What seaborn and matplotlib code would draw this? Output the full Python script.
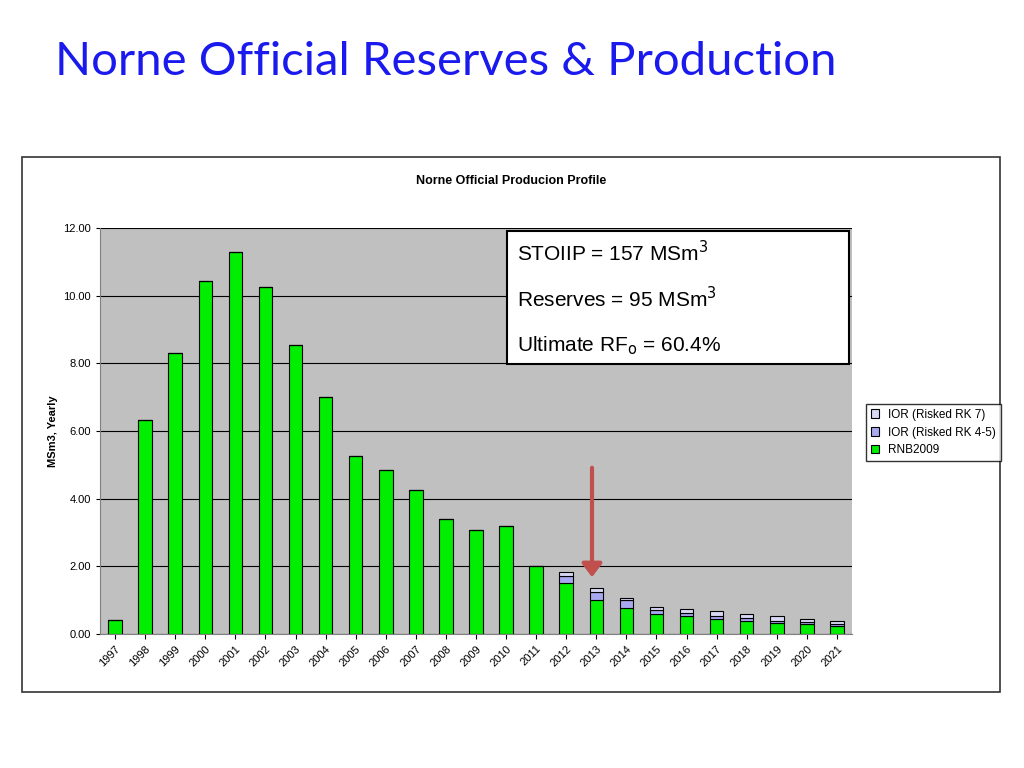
import matplotlib
matplotlib.use("Agg")
import matplotlib.pyplot as plt
import seaborn as sns
import numpy as np
from matplotlib.patches import Rectangle, FancyArrowPatch

years = [str(y) for y in range(1997, 2022)]
rnb2009 = [0.41, 6.33, 8.32, 10.42, 11.3, 10.27, 8.55, 7.0, 5.27, 4.85, 4.25, 3.4, 3.08, 3.2,
           2.0, 1.5, 1.0, 0.77, 0.58, 0.52, 0.45, 0.38, 0.32, 0.30, 0.24]
ior_rk45 = [0]*15 + [0.22, 0.23, 0.24, 0.13, 0.11, 0.09, 0.10, 0.07, 0.06, 0.06]
ior_rk7 = [0]*15 + [0.10, 0.14, 0.05, 0.09, 0.12, 0.15, 0.12, 0.13, 0.08, 0.07]

fig = plt.figure(figsize=(10.24, 7.68), dpi=100)
fig.patch.set_facecolor("white")
fig.text(55/1024, 1-62/768, "Norne Official Reserves & Production", color="#1a1aee",
         fontsize=34, family="Lato", va="center", ha="left")
fig.add_artist(Rectangle((22/1024, 1-692/768), 978/1024, 535/768, transform=fig.transFigure,
                         fill=False, edgecolor="#333333", lw=1.2))
fig.text(511/1024, 1-181/768, "Norne Official Producion Profile", fontsize=9, fontweight="bold",
         ha="center", va="center", family="Liberation Sans")

ax = fig.add_axes([100/1024, 1-634/768, 752/1024, 406/768])
ax.set_facecolor("#c0c0c0")
x = np.arange(len(years))
b1 = np.array(rnb2009)
b2 = b1 + np.array(ior_rk45)
sns.barplot(x=years, y=rnb2009, ax=ax, color="#00ee00", edgecolor="black", linewidth=0.8,
            width=0.45, saturation=1, label="RNB2009")
sns.barplot(x=years, y=ior_rk45, ax=ax, color="#a8a8f0", edgecolor="black", linewidth=0.8,
            width=0.45, saturation=1, bottom=b1, label="IOR (Risked RK 4-5)")
sns.barplot(x=years, y=ior_rk7, ax=ax, color="#d8d8f4", edgecolor="black", linewidth=0.8,
            width=0.45, saturation=1, bottom=b2, label="IOR (Risked RK 7)")
ax.set_ylim(0, 12)
ax.set_xlim(-0.5, len(years)-0.5)
ax.set_yticks(np.arange(0, 12.01, 2))
ax.set_yticklabels([f"{v:.2f}" for v in np.arange(0, 12.01, 2)], fontsize=8, family="Liberation Sans")
ax.yaxis.grid(True, color="black", lw=0.8)
ax.set_axisbelow(True)
ax.set_xticks(x)
ax.set_xticklabels(years, rotation=45, ha="right", rotation_mode="anchor", fontsize=8,
                   family="Liberation Sans")
for s in ["top", "right"]:
    ax.spines[s].set_visible(False)
ax.spines["left"].set_color("#808080")
ax.spines["bottom"].set_color("#808080")
ax.set_ylabel("MSm3, Yearly", fontsize=8, fontweight="bold", family="Liberation Sans")
ax.tick_params(axis="y", length=3)
handles, labels = ax.get_legend_handles_labels()
order = [2, 1, 0]
leg = fig.legend([handles[i] for i in order], [labels[i] for i in order],
                 loc="upper left", bbox_to_anchor=(860/1024, 1-398/768), fontsize=8.5,
                 frameon=True, fancybox=False, edgecolor="black", handlelength=0.7,
                 handleheight=0.7, prop={"family": "Liberation Sans", "size": 8.5})

# text box
fig.add_artist(Rectangle((507/1024, 1-364/768), 342/1024, 133/768, transform=fig.transFigure,
                         facecolor="white", edgecolor="black", lw=1.5))
fig.text(517/1024, 1-253/768, r"STOIIP = 157 MSm$^3$", fontsize=15, family="Liberation Sans", va="center")
fig.text(517/1024, 1-299/768, r"Reserves = 95 MSm$^3$", fontsize=15, family="Liberation Sans", va="center")
fig.text(517/1024, 1-346/768, r"Ultimate RF$_\mathrm{o}$ = 60.4%", fontsize=15, family="Liberation Sans", va="center")

fig.add_artist(FancyArrowPatch((592/1024, 1-465/768), (592/1024, 1-580/768), transform=fig.transFigure,
                               arrowstyle="-|>,head_length=8,head_width=6", color="#c0504d", lw=3))
fig.savefig("out.png", dpi=100)
